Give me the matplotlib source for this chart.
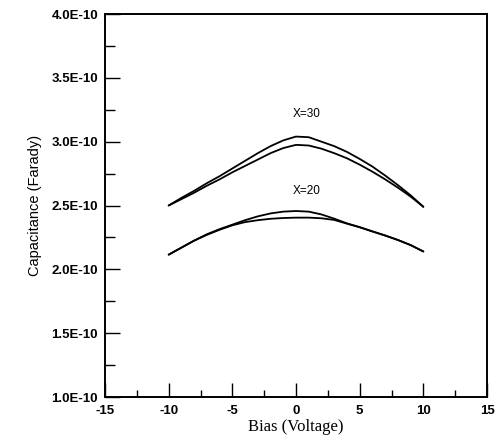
import matplotlib
matplotlib.use("Agg")
import matplotlib.pyplot as plt
from matplotlib.ticker import FixedLocator, FuncFormatter

# Bias sweep (V)
bias = [-10, -9, -8, -7, -6, -5, -4, -3, -2, -1, 0, 1, 2, 3, 4, 5, 6, 7, 8, 9, 10]

# Capacitance (F) for X=30, two sweeps
cap_x30_a = [2.50e-10, 2.56e-10, 2.615e-10, 2.675e-10, 2.73e-10, 2.79e-10, 2.85e-10,
             2.91e-10, 2.965e-10, 3.01e-10, 3.04e-10, 3.035e-10, 3.00e-10, 2.965e-10,
             2.92e-10, 2.865e-10, 2.805e-10, 2.735e-10, 2.66e-10, 2.58e-10, 2.49e-10]
cap_x30_b = [2.50e-10, 2.55e-10, 2.60e-10, 2.655e-10, 2.705e-10, 2.76e-10, 2.81e-10,
             2.86e-10, 2.91e-10, 2.95e-10, 2.975e-10, 2.97e-10, 2.945e-10, 2.91e-10,
             2.87e-10, 2.82e-10, 2.765e-10, 2.705e-10, 2.64e-10, 2.57e-10, 2.49e-10]

# Capacitance (F) for X=20, two sweeps
cap_x20_a = [2.115e-10, 2.17e-10, 2.225e-10, 2.275e-10, 2.315e-10, 2.35e-10, 2.385e-10,
             2.415e-10, 2.438e-10, 2.452e-10, 2.457e-10, 2.452e-10, 2.43e-10, 2.397e-10,
             2.36e-10, 2.33e-10, 2.297e-10, 2.265e-10, 2.23e-10, 2.19e-10, 2.14e-10]
cap_x20_b = [2.115e-10, 2.17e-10, 2.225e-10, 2.27e-10, 2.31e-10, 2.345e-10, 2.37e-10,
             2.385e-10, 2.396e-10, 2.402e-10, 2.405e-10, 2.405e-10, 2.40e-10, 2.387e-10,
             2.358e-10, 2.33e-10, 2.297e-10, 2.265e-10, 2.23e-10, 2.19e-10, 2.14e-10]

series_labels = ["X=30", "X=20"]

x_major = [-15, -10, -5, 0, 5, 10, 15]
x_minor = [-12.5, -7.5, -2.5, 2.5, 7.5, 12.5]
y_major = [1.0e-10, 1.5e-10, 2.0e-10, 2.5e-10, 3.0e-10, 3.5e-10, 4.0e-10]
y_minor = [1.25e-10, 1.75e-10, 2.25e-10, 2.75e-10, 3.25e-10, 3.75e-10]

sans = ["Liberation Sans", "DejaVu Sans"]
serif = ["Liberation Serif", "DejaVu Serif"]

fig = plt.figure(figsize=(4.97, 4.42), dpi=100)
ax = fig.add_axes([0.2113, 0.1018, 0.7686, 0.8665])

for ys in (cap_x30_a, cap_x30_b, cap_x20_a, cap_x20_b):
    ax.plot(bias, ys, color="black", lw=1.3, solid_capstyle="round",
            solid_joinstyle="round")

ax.set_xlim(-15, 15)
ax.set_ylim(1.0e-10, 4.0e-10)

ax.xaxis.set_major_locator(FixedLocator(x_major))
ax.xaxis.set_minor_locator(FixedLocator(x_minor))
ax.yaxis.set_major_locator(FixedLocator(y_major))
ax.yaxis.set_minor_locator(FixedLocator(y_minor))
ax.yaxis.set_major_formatter(FuncFormatter(lambda v, p: f"{v * 1e10:.1f}E-10"))
ax.xaxis.set_major_formatter(FuncFormatter(lambda v, p: f"{v:g}"))

ax.tick_params(axis="y", which="major", direction="in", length=11, width=1.0,
               pad=5, labelsize=9.5)
ax.tick_params(axis="y", which="minor", direction="in", length=7, width=1.0)
ax.tick_params(axis="x", which="major", direction="in", length=10, width=1.0,
               pad=6, labelsize=9.5)
ax.tick_params(axis="x", which="minor", direction="in", length=5, width=1.0)
for lab in ax.get_xticklabels() + ax.get_yticklabels():
    lab.set_family(sans)
    lab.set_fontweight("bold")

for side in ("top", "right", "bottom", "left"):
    ax.spines[side].set_linewidth(1.4)

ax.set_xlabel("Bias (Voltage)", family=serif, fontsize=12, labelpad=1)
ax.set_ylabel("Capacitance (Farady)", family=sans, fontsize=10.5, labelpad=7)

ax.text(0.8, 3.22e-10, series_labels[0], family=sans, fontsize=8.5,
        ha="center", va="center")
ax.text(0.8, 2.61e-10, series_labels[1], family=sans, fontsize=8.5,
        ha="center", va="center")

fig.savefig("out.png", dpi=100)
